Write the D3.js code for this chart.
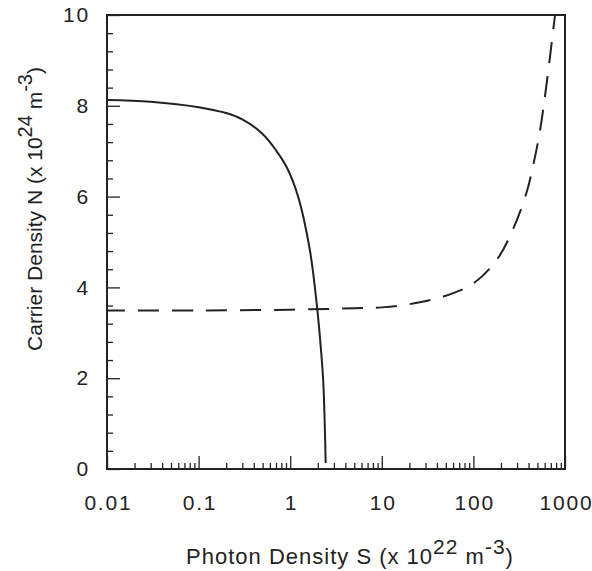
<!DOCTYPE html>
<html>
<head>
<meta charset="utf-8">
<script src="https://cdn.jsdelivr.net/npm/d3@7/dist/d3.min.js"></script>
<style>
  html, body { margin: 0; padding: 0; background: #fff; }
  svg { display: block; font-family: "Liberation Sans", Arial, Helvetica, sans-serif; }
</style>
</head>
<body>
<svg id="chart" width="592" height="571"></svg>
<script>
// ---- data ----
const xTickValues = [0.01, 0.1, 1, 10, 100, 1000];
const xTickLabels = ["0.01", "0.1", "1", "10", "100", "1000"];
const yTickValues = [0, 2, 4, 6, 8, 10];
const yTickLabels = ["0", "2", "4", "6", "8", "10"];

// solid curve: photon density S vs carrier density N
const solidS = [0.01, 0.03, 0.1, 0.2, 0.3, 0.5, 0.7, 0.92, 1.22, 1.64, 1.98, 2.17, 2.30, 2.44];
const solidN = [8.13, 8.09, 7.97, 7.84, 7.70, 7.38, 7.02, 6.64, 6.00, 4.82, 3.50, 2.62, 1.89, 0.13];

// dashed curve
const dashedS = [0.01, 0.1, 1, 5, 10, 20, 47, 100, 179, 273, 382, 451, 533, 631, 778];
const dashedN = [3.49, 3.49, 3.51, 3.54, 3.56, 3.63, 3.80, 4.09, 4.60, 5.30, 6.10, 6.70, 7.45, 8.50, 10.0];

// ---- layout ----
const plotL = 107, plotR = 565, plotT = 15, plotB = 469;
const ink = "#222";

const svg = d3.select("#chart");
const x = d3.scaleLog().domain([0.01, 1000]).range([plotL, plotR]);
const y = d3.scaleLinear().domain([0, 10]).range([plotB, plotT]);

// minor ticks
const xMinor = [];
[0.01, 0.1, 1, 10, 100].forEach(d => { for (let k = 2; k <= 9; k++) xMinor.push(d * k); });
const yMinor = d3.range(0, 10.001, 0.4).filter(v => Math.abs(v / 2 - Math.round(v / 2)) > 1e-6);

function styleAxis(g) {
  g.select(".domain").remove();
  g.selectAll(".tick line").attr("stroke", ink).attr("stroke-width", 1.3);
  g.selectAll(".tick text").attr("fill", ink).attr("font-size", 21)
    .attr("letter-spacing", "1.8px")
    .attr("font-family", '"Liberation Sans", Arial, sans-serif');
}

svg.append("g").attr("transform", `translate(0,${plotB})`)
  .call(d3.axisBottom(x).tickValues(xMinor).tickSize(-6).tickFormat(""))
  .call(styleAxis);
svg.append("g").attr("transform", `translate(0,${plotB})`)
  .call(d3.axisBottom(x).tickValues(xTickValues).tickSize(-13).tickPadding(26)
    .tickFormat((d, i) => xTickLabels[i]))
  .call(styleAxis)
  .call(g => g.selectAll(".tick text").attr("dx", "0.9px"));

svg.append("g").attr("transform", `translate(${plotL},0)`)
  .call(d3.axisLeft(y).tickValues(yMinor).tickSize(-6).tickFormat(""))
  .call(styleAxis);
svg.append("g").attr("transform", `translate(${plotL},0)`)
  .call(d3.axisLeft(y).tickValues(yTickValues).tickSize(-13).tickPadding(17)
    .tickFormat((d, i) => yTickLabels[i]))
  .call(styleAxis);

// frame
svg.append("rect")
  .attr("x", plotL).attr("y", plotT)
  .attr("width", plotR - plotL).attr("height", plotB - plotT)
  .attr("fill", "none").attr("stroke", ink).attr("stroke-width", 2);

// curves
const line = d3.line().x(d => x(d[0])).y(d => y(d[1])).curve(d3.curveCatmullRom.alpha(0.5));

svg.append("path")
  .datum(d3.zip(solidS, solidN))
  .attr("d", line)
  .attr("fill", "none").attr("stroke", ink).attr("stroke-width", 2);

svg.append("path")
  .datum(d3.zip(dashedS, dashedN))
  .attr("d", line)
  .attr("fill", "none").attr("stroke", ink).attr("stroke-width", 2)
  .attr("stroke-dasharray", "21,13").attr("stroke-dashoffset", 3);

// axis titles
const xt = svg.append("text")
  .attr("x", 350).attr("y", 564)
  .attr("text-anchor", "middle").attr("font-size", 22).attr("fill", ink)
  .attr("letter-spacing", "1px");
xt.append("tspan").text("Photon Density S (x 10");
xt.append("tspan").attr("dy", -10).attr("font-size", 21).text("22");
xt.append("tspan").attr("dy", 10).text(" m");
xt.append("tspan").attr("dy", -10).attr("font-size", 21).text("-3");
xt.append("tspan").attr("dy", 10).text(")");

const yt = svg.append("text")
  .attr("transform", "translate(42,209) rotate(-90)")
  .attr("text-anchor", "middle").attr("font-size", 21).attr("fill", ink);
yt.append("tspan").text("Carrier Density N (x 10");
yt.append("tspan").attr("dy", -10).attr("font-size", 20).text("24");
yt.append("tspan").attr("dy", 10).text(" m");
yt.append("tspan").attr("dy", -10).attr("font-size", 20).text("-3");
yt.append("tspan").attr("dy", 10).text(")");
</script>
</body>
</html>
